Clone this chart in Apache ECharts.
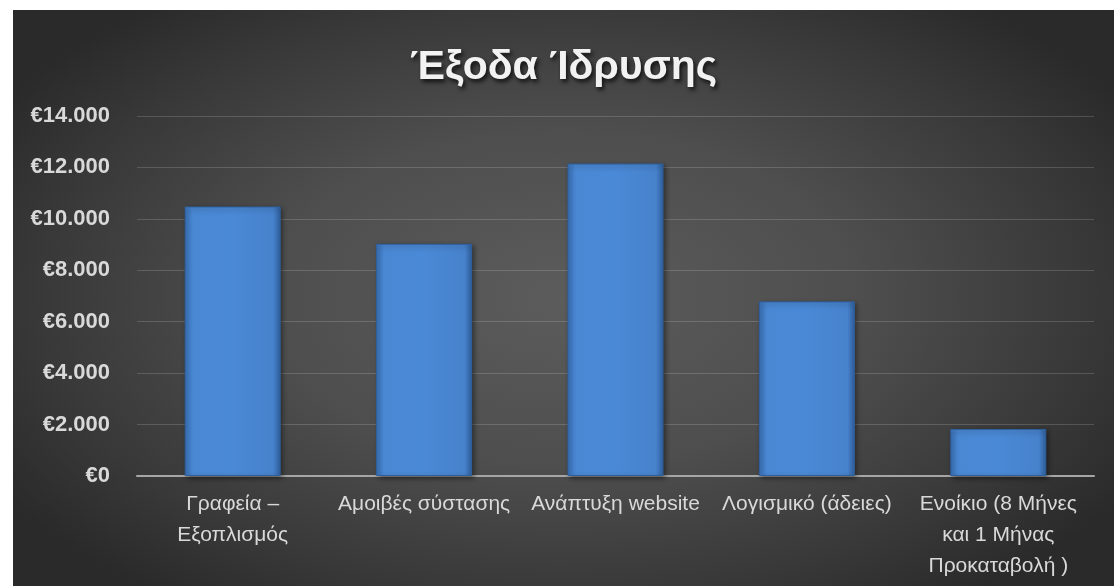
<!DOCTYPE html>
<html>
<head>
<meta charset="utf-8">
<script src="https://cdn.jsdelivr.net/npm/echarts@6/dist/echarts.min.js"></script>
<style>
  html, body { margin: 0; padding: 0; background: #ffffff; width: 1114px; height: 586px; overflow: hidden; }
  #chart {
    position: absolute; left: 13px; top: 10px; width: 1101px; height: 576px;
    background: radial-gradient(ellipse 60% 65% at 50% 50%, #5c5c5c 0%, #4e4e4e 45%, #383838 80%, #2a2a2a 100%);
  }
</style>
</head>
<body>
<div id="chart"></div>
<script>
const titleText = 'Έξοδα Ίδρυσης';
const categories = [
  'Γραφεία –\nΕξοπλισμός',
  'Αμοιβές σύστασης',
  'Ανάπτυξη website',
  'Λογισμικό (άδειες)',
  'Ενοίκιο (8 Μήνες\nκαι 1 Μήνας\nΠροκαταβολή )'
];
const costs = [10480, 9030, 12150, 6790, 1830];
const yMin = 0, yMax = 14000, yStep = 2000;

function euro(v) {
  return '€' + String(v).replace(/\B(?=(\d{3})+(?!\d))/g, '.');
}

const chart = echarts.init(document.getElementById('chart'), null, { renderer: 'canvas' });
chart.setOption({
  backgroundColor: 'transparent',
  animation: false,
  title: {
    text: titleText,
    left: 'center',
    top: 28,
    textStyle: {
      fontFamily: 'Liberation Sans',
      fontWeight: 'bold',
      fontSize: 41,
      lineHeight: 50,
      color: '#f2f2f2',
      textShadowColor: 'rgba(0,0,0,0.75)',
      textShadowBlur: 4,
      textShadowOffsetX: 2,
      textShadowOffsetY: 3
    }
  },
  grid: { left: 124, right: 20, top: 106, bottom: 110, containLabel: false },
  xAxis: {
    type: 'category',
    data: categories,
    axisTick: { show: false },
    axisLine: { show: true, lineStyle: { color: '#a6a6a6', width: 2 } },
    axisLabel: {
      interval: 0,
      margin: 13,
      fontFamily: 'Liberation Sans',
      fontSize: 21,
      lineHeight: 31,
      color: '#d9d9d9',
      verticalAlign: 'top'
    }
  },
  yAxis: {
    type: 'value',
    min: yMin, max: yMax, interval: yStep,
    axisLine: { show: false },
    axisTick: { show: false },
    splitLine: { lineStyle: { color: 'rgba(255,255,255,0.16)', width: 1 } },
    axisLabel: {
      margin: 27,
      fontFamily: 'Liberation Sans',
      fontWeight: 'bold',
      fontSize: 22,
      color: '#d9d9d9',
      formatter: euro
    }
  },
  series: [{
    type: 'bar',
    data: costs,
    barWidth: 96,
    itemStyle: {
      color: new echarts.graphic.LinearGradient(0, 0, 1, 0, [
        { offset: 0, color: '#3a72b8' },
        { offset: 0.08, color: '#4a88d4' },
        { offset: 0.5, color: '#4a89d6' },
        { offset: 0.92, color: '#4782cc' },
        { offset: 1, color: '#2f5f9c' }
      ]),
      borderColor: '#2f609e',
      borderWidth: 1,
      shadowColor: 'rgba(0,0,0,0.45)',
      shadowBlur: 5,
      shadowOffsetX: 2,
      shadowOffsetY: 2
    }
  }]
});
</script>
</body>
</html>
